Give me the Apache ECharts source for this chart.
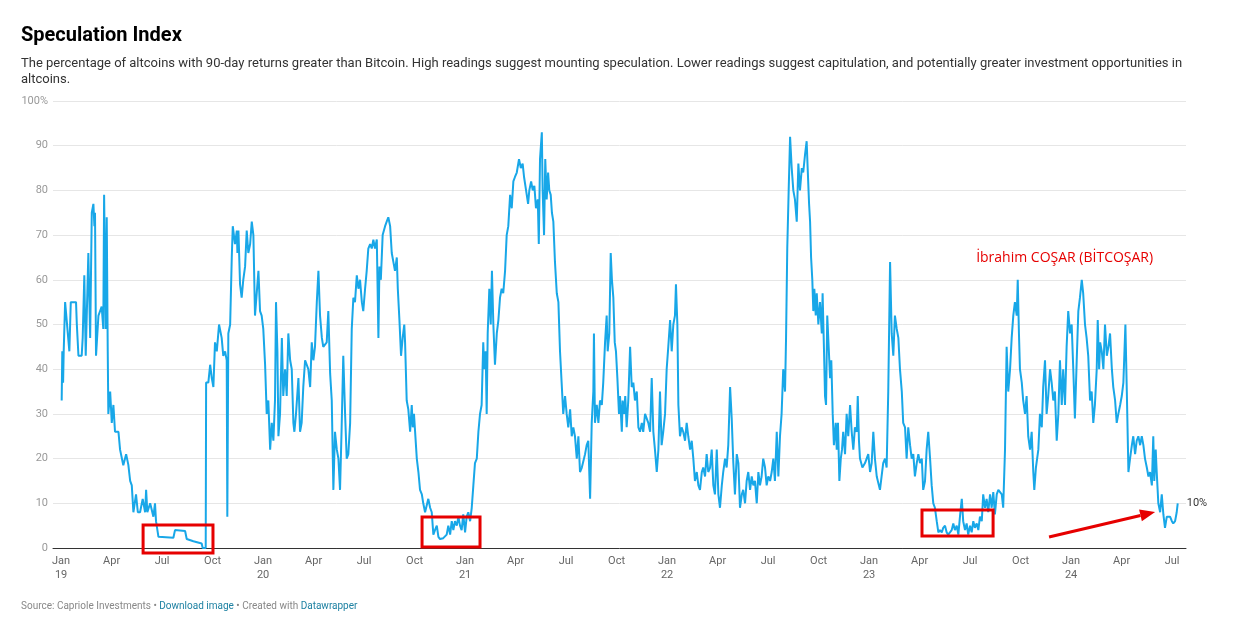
<!DOCTYPE html>
<html>
<head>
<meta charset="utf-8">
<script src="https://cdn.jsdelivr.net/npm/echarts@6/dist/echarts.min.js"></script>
<style>
html,body{margin:0;padding:0;background:#fff;}
#chart{width:1236px;height:635px;}
</style>
</head>
<body>
<div id="chart"></div>
<script>
// ---- DATA: date as fraction of the year, value in % ----
const d19=[0.003,0.006,0.010,0.013,0.020,0.028,0.041,0.048,0.061,0.074,
0.078,0.086,0.102,0.107,0.115,0.122,0.135,0.144,0.152,0.160,
0.165,0.168,0.173,0.185,0.201,0.209,0.213,0.221,0.226,0.231,
0.234,0.243,0.251,0.259,0.267,0.284,0.292,0.308,0.322,0.333,
0.342,0.350,0.358,0.371,0.380,0.391,0.404,0.416,0.421,0.427,
0.441,0.457,0.465,0.470,0.482,0.556,0.564,0.614,0.622,0.655,
0.696,0.701,0.716,0.718,0.729,0.738,0.746,0.754,0.762,0.771,
0.782,0.795,0.803,0.812,0.820,0.823,0.828,0.837,0.845,0.850,
0.861,0.870,0.873,0.878,0.886,0.894,0.902,0.911,0.919,0.927,
0.936,0.944,0.952,0.960,0.977,0.985,0.993];
const v19=[33,44,37,44,55,55,44,55,55,55,
50,43,43,47,61,43,66,47,75,77,
72,75,43,52,54,49,79,49,74,44,
30,35,28,32,26,26,22,18.5,21,18.6,
15,14,8,12,8,8,11,8,13,8,
10,7,10,6,2.5,2.3,4,3.8,2,1.5,
1,0,0,37,37,41,38,36,46,44,
50,47,43,44,42,7,48,50,65,72,
68,71,66,71,59,56,60,63,71,66,
68,73,70,52,62,53,52];

const d20=[0.001,0.010,0.018,0.026,0.035,0.043,0.051,0.059,0.064,0.071,
0.076,0.084,0.093,0.100,0.109,0.117,0.125,0.134,0.142,0.150,
0.155,0.163,0.175,0.183,0.191,0.199,0.208,0.224,0.233,0.241,
0.249,0.257,0.266,0.274,0.282,0.291,0.298,0.315,0.323,0.332,
0.340,0.348,0.356,0.365,0.373,0.381,0.389,0.397,0.406,0.414,
0.422,0.431,0.439,0.447,0.455,0.464,0.472,0.480,0.489,0.496,
0.505,0.513,0.521,0.530,0.538,0.546,0.554,0.563,0.571,0.576,
0.583,0.592,0.604,0.612,0.620,0.629,0.637,0.645,0.653,0.662,
0.667,0.675,0.683,0.691,0.699,0.703,0.711,0.719,0.728,0.736,
0.741,0.747,0.761,0.769,0.777,0.786,0.793,0.802,0.810,0.818,
0.827,0.835,0.843,0.851,0.860,0.868,0.876,0.892,0.901,0.909,
0.917,0.926,0.934,0.942,0.950,0.959,0.967,0.975,0.983,0.991];
const v20=[49,41,30,33,22,28,24,33,55,44,
25,30,47,34,40,34,48,42,40,28,
26,30,38,26,28,36,42,40,36,46,
42,45,55,62,52,47,45,46,53,39,
33,13,26,22,20,13,27,43,30,20,
21,28,49,56,55,61,58,60,55,53,
58,62,67,68,67,69,67,69,47,63,
60,70,72,73,74,72,66,64,62,65,
58,51,43,47,50,46,33,31,26,32,
27,30,20,17,13,12,10,8,9.5,11,
9,8,3,4,5,2.5,2,2.2,2.5,3,
5,3,6,4,6,5,7,5,4,7.5];

const d21=[0.000,0.008,0.016,0.025,0.033,0.041,0.049,0.058,0.066,0.074,
0.082,0.090,0.095,0.102,0.107,0.112,0.120,0.127,0.133,0.140,
0.148,0.157,0.165,0.173,0.181,0.189,0.198,0.206,0.214,0.223,
0.231,0.239,0.247,0.256,0.267,0.276,0.285,0.292,0.302,0.312,
0.318,0.327,0.335,0.343,0.351,0.360,0.365,0.371,0.380,0.384,
0.391,0.397,0.404,0.411,0.417,0.424,0.430,0.437,0.445,0.454,
0.462,0.470,0.478,0.486,0.495,0.503,0.511,0.520,0.528,0.536,
0.544,0.553,0.561,0.569,0.578,0.585,0.594,0.602,0.610,0.619,
0.627,0.635,0.638,0.643,0.652,0.660,0.668,0.677,0.684,0.693,
0.701,0.706,0.714,0.721,0.727,0.734,0.741,0.747,0.754,0.762,
0.767,0.776,0.780,0.787,0.793,0.800,0.808,0.817,0.825,0.833,
0.841,0.850,0.858,0.866,0.875,0.882,0.891,0.899,0.907,0.916,
0.924,0.932,0.940,0.949,0.957,0.965,0.973,0.981,0.990,0.998];
const v21=[3.5,7,8,6,9,14,19,20,26,30,
32,46,40,44,30,48,58,50,62,50,
41,48,51,56,58,57,62,70,72,79,
76,82,83,84,87,85,86,83,80,77,
80,82,80,81,76,78,68,87,93,80,
70,87,78,84,80,79,75,73,64,57,
55,44,37,30,34,30,27,31,25,27,
25,20,25,17,18,18,21,23,24,11,
28,35,48,28,32,28,33,32,37,46,
52,44,48,66,60,56,46,44,38,30,
34,26,33,30,34,27,33,45,36,37,
33,35,27,26,28,26,30,29,28,26,
38,26,22,17,22,35,23,26,30,40];

const d22=[0.006,0.015,0.023,0.031,0.039,0.044,0.051,0.056,0.064,0.072,
0.080,0.089,0.097,0.105,0.114,0.122,0.130,0.138,0.147,0.155,
0.163,0.172,0.179,0.188,0.196,0.204,0.213,0.221,0.229,0.237,
0.246,0.254,0.262,0.271,0.278,0.287,0.295,0.303,0.312,0.320,
0.328,0.336,0.345,0.353,0.361,0.370,0.377,0.386,0.394,0.402,
0.411,0.419,0.427,0.435,0.444,0.452,0.460,0.468,0.476,0.485,
0.493,0.501,0.510,0.518,0.526,0.534,0.543,0.551,0.559,0.567,
0.575,0.584,0.589,0.595,0.602,0.609,0.617,0.625,0.633,0.642,
0.650,0.658,0.667,0.674,0.683,0.691,0.696,0.703,0.708,0.713,
0.719,0.724,0.729,0.736,0.741,0.749,0.757,0.766,0.770,0.777,
0.782,0.787,0.793,0.800,0.807,0.813,0.820,0.826,0.835,0.840,
0.846,0.853,0.860,0.866,0.872,0.881,0.889,0.897,0.906,0.914,
0.922,0.930,0.939,0.944,0.950,0.955,0.967,0.980,0.988,0.996];
const v22=[45,51,44,50,52,59,50,32,25,27,
26,24,28,25,22,24,20,15,17,14,
13,17,18,16,21,17,18,22,14,12,
22,12,9,14,17,20,18,23,36,29,
19,12,21,19,9,12,13,10,15,17,
13,16,14,15,10,17,14,16,20,18,
14,16,15,17,20,15,26,16,25,30,
40,35,47,67,80,92,85,80,78,73,
86,80,85,84,88,91,85,77,73,65,
60,53,58,52,57,50,55,48,57,44,
34,32,52,45,38,42,30,23,28,22,
28,15,20,22,26,21,30,25,32,26,
22,27,26,34,24,20,18,19,19,21];

const d23=[0.005,0.013,0.021,0.029,0.038,0.046,0.054,0.062,0.070,0.079,
0.087,0.095,0.104,0.112,0.120,0.128,0.137,0.145,0.153,0.162,
0.169,0.178,0.186,0.194,0.203,0.211,0.219,0.227,0.236,0.244,
0.252,0.261,0.268,0.277,0.285,0.293,0.302,0.310,0.318,0.326,
0.335,0.343,0.351,0.360,0.367,0.376,0.384,0.392,0.401,0.409,
0.417,0.425,0.434,0.442,0.450,0.459,0.466,0.475,0.483,0.491,
0.500,0.508,0.516,0.524,0.533,0.541,0.549,0.558,0.565,0.574,
0.582,0.590,0.599,0.607,0.615,0.623,0.632,0.640,0.648,0.657,
0.664,0.673,0.681,0.689,0.698,0.706,0.714,0.722,0.731,0.736,
0.742,0.747,0.756,0.763,0.772,0.780,0.788,0.797,0.805,0.813,
0.818,0.826,0.838,0.846,0.855,0.862,0.871,0.879,0.887,0.896,
0.904,0.912,0.920,0.929,0.937,0.945,0.954,0.961,0.970,0.978,
0.986,0.995];
const v23=[17,19,26,20,16,16,13,16,19,20,
18,35,64,48,43,52,49,47,40,35,
28,27,20,27,23,20,21,16,19,21,
19,20,13,15,22,26,20,14,10,9,
6,3.5,4,3.5,4.5,5,3.5,3,3,4,
5.5,4,5,3,7,11,6,4,5.5,3,
5,3.5,6,4.5,5.5,4,7,6,12,9,
11,8,12,9,12.5,7.5,12,13,13,12,
9,22,45,35,40,47,52,55,52,60,
48,40,37,33,30,34,25,22,26,17,
13,18,22,30,27,36,42,30,34,40,
37,33,35,24,30,42,32,40,32,45,
53,48];

const d24=[0.003,0.011,0.019,0.028,0.036,0.044,0.053,0.060,0.069,0.077,
0.085,0.094,0.102,0.110,0.118,0.127,0.132,0.139,0.144,0.152,
0.160,0.168,0.177,0.185,0.193,0.202,0.209,0.218,0.226,0.234,
0.243,0.251,0.259,0.269,0.276,0.284,0.292,0.301,0.308,0.317,
0.325,0.333,0.342,0.350,0.358,0.366,0.375,0.383,0.391,0.400,
0.407,0.412,0.419,0.424,0.432,0.441,0.449,0.457,0.465,0.474,
0.482,0.490,0.499,0.506,0.515,0.523,0.528];
const v24=[50,40,29,42,53,56,60,57,50,47,
43,33,35,28,32,40,51,40,46,44,
40,50,43,45,48,40,36,33,28,30,
32,34,37,50,35,17,20,23,25,21,
24,25,23,25,23,20,18,16,17,14,
25,15,22,17,10,8,12,7.5,4.5,7,
7,7,6,5.5,6,8,10];

// tick positions (quarters) and month names
const monthNames=['Jan','Apr','Jul','Oct'];

// annotations (data coordinates)
const boxes=[[2019.406,5.15,2019.752,-1.12],[2020.787,6.94,2021.074,0.22],[2023.262,8.5,2023.614,2.68]];
const arrowPts=[[2023.891,2.46],[2024.416,8.05]];
const noteAt=[2023.530,64.9];
const noteText='İbrahim COŞAR (BİTCOŞAR)';

// ---- build series ----
function build(year,d,v){return d.map((f,i)=>[+(year+f).toFixed(3),v[i]]);}
const seriesData=[].concat(build(2019,d19,v19),build(2020,d20,v20),build(2021,d21,v21),
  build(2022,d22,v22),build(2023,d23,v23),build(2024,d24,v24));

const quarterTicks=[];
for(let y=2019;y<=2024;y++){for(let q=0;q<4;q++){const t=y+q*0.25;if(t<=2024.55)quarterTicks.push(t);}}

const FONT='Roboto, "Noto Sans", sans-serif';
const chart=echarts.init(document.getElementById('chart'),null,{renderer:'canvas'});
chart.setOption({
  animation:false,
  backgroundColor:'#fff',
  title:{
    text:'Speculation Index',
    subtext:'The percentage of altcoins with 90-day returns greater than Bitcoin. High readings suggest mounting speculation. Lower readings suggest capitulation, and potentially greater investment opportunities in altcoins.',
    left:21,top:26,itemGap:10,padding:0,
    textStyle:{fontFamily:FONT,fontSize:20,fontWeight:'bold',color:'#000'},
    subtextStyle:{fontFamily:FONT,fontSize:13,color:'#333',lineHeight:16,width:1175,overflow:'break'}
  },
  grid:{left:53,right:50,top:101,bottom:87,containLabel:false},
  xAxis:{
    type:'value',min:2018.96,max:2024.569,
    axisLine:{show:true,lineStyle:{color:'#333',width:1}},
    axisTick:{show:false},
    splitLine:{show:false},
    axisLabel:{
      customValues:quarterTicks,
      margin:6,fontFamily:FONT,fontSize:11,color:'#666',lineHeight:14,
      formatter:function(val){
        const y=Math.floor(val+1e-6);const q=Math.round((val-y)*4);
        return q===0?monthNames[0]+'\n'+String(y).slice(2):monthNames[q];
      }
    }
  },
  yAxis:{
    type:'value',min:0,max:100,interval:10,
    axisLine:{show:false},axisTick:{show:false},
    splitLine:{lineStyle:{color:'#e6e6e6',width:1}},
    axisLabel:{margin:5,fontFamily:FONT,fontSize:11,color:'#999',
      formatter:function(v){return v===100?'100%':String(v);}}
  },
  series:[{
    type:'line',data:seriesData,showSymbol:false,symbol:'none',
    lineStyle:{color:'#18a7e8',width:2},
    clip:false,
    endLabel:{show:true,distance:9,fontFamily:FONT,fontSize:11,color:'#333',
      formatter:function(p){return Math.round(p.value[1])+'%';}}
  }]
});

// annotations placed through the chart's own coordinate conversion
function px(p){return chart.convertToPixel({gridIndex:0},p);}
const g=[];
boxes.forEach(b=>{
  const a=px([b[0],b[1]]),c=px([b[2],b[3]]);
  g.push({type:'rect',z:100,shape:{x:a[0],y:a[1],width:c[0]-a[0],height:c[1]-a[1]},
    style:{fill:'none',stroke:'#e60000',lineWidth:3}});
});
const A=px(arrowPts[0]),B=px(arrowPts[1]);
const ang=Math.atan2(B[1]-A[1],B[0]-A[0]);
const hl=15,hw=6;
const baseX=B[0]-hl*Math.cos(ang),baseY=B[1]-hl*Math.sin(ang);
g.push({type:'line',z:100,shape:{x1:A[0],y1:A[1],x2:baseX,y2:baseY},style:{stroke:'#e60000',lineWidth:3}});
g.push({type:'polygon',z:100,shape:{points:[[B[0],B[1]],
  [baseX+hw*Math.sin(ang),baseY-hw*Math.cos(ang)],
  [baseX-hw*Math.sin(ang),baseY+hw*Math.cos(ang)]]},style:{fill:'#e60000'}});
const N=px(noteAt);
g.push({type:'text',z:100,x:N[0],y:N[1],style:{text:noteText,fill:'#e60000',
  font:'14px "Open Sans", "Noto Sans", sans-serif',textVerticalAlign:'middle'}});
g.push({type:'text',left:21,top:601,style:{
  text:'{g|Source: Capriole Investments • }{b|Download image}{g| • Created with }{b|Datawrapper}',
  rich:{g:{fill:'#888',fontSize:10,fontFamily:FONT},b:{fill:'#1d81a2',fontSize:10,fontFamily:FONT}}}});
chart.setOption({graphic:g});
</script>
</body>
</html>
